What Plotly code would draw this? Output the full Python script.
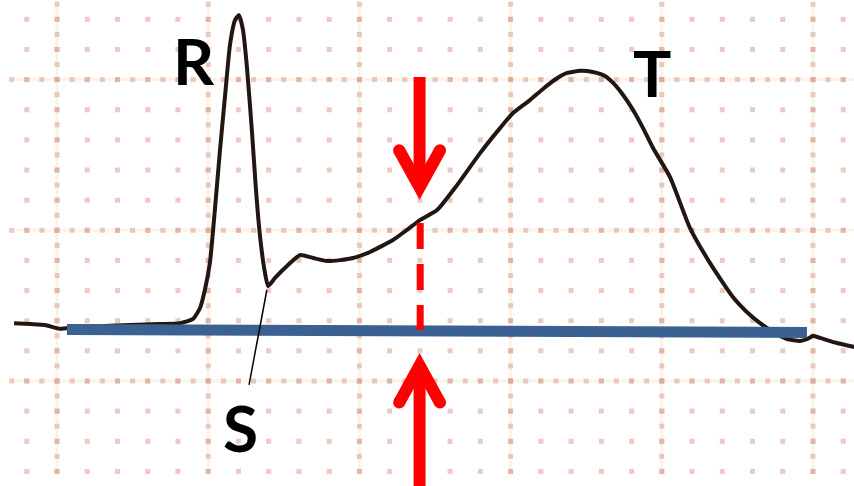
import numpy as np
import plotly.graph_objects as go

# ---- Data (ECG paper millimetres: 1 mm = 0.04 s horizontally, 0.1 mV vertically) ----
ecg_x_mm = [-1.42, -0.89, -0.40, 0.10, 0.60, 1.42, 2.41, 3.41, 4.07, 4.50, 4.73, 4.89,
            5.06, 5.22, 5.39, 5.56, 5.72, 5.89, 6.02, 6.15, 6.28, 6.45, 6.58, 6.71,
            6.85, 6.98, 7.21, 7.64, 8.04, 8.47, 8.93, 9.36, 9.79, 10.35, 11.11, 11.57,
            12.00, 12.57, 13.23, 13.99, 14.65, 15.08, 15.64, 16.07, 16.50, 16.87, 17.30,
            17.72, 18.12, 18.39, 18.72, 19.05, 19.38, 19.71, 20.27, 20.93, 21.59, 22.35,
            22.92, 23.25, 23.74, 24.14, 24.57, 24.80, 25.00, 25.23, 25.79, 26.36]
ecg_y_mm = [1.92, 1.89, 1.86, 1.73, 1.79, 1.82, 1.86, 1.89, 1.92, 2.06, 2.42, 3.02,
            3.95, 5.67, 7.66, 9.49, 11.15, 11.98, 12.14, 11.65, 10.42, 8.23, 6.34, 4.84,
            3.75, 3.15, 3.42, 3.85, 4.18, 4.08, 3.98, 4.01, 4.08, 4.28, 4.68, 5.01,
            5.34, 5.67, 6.50, 7.56, 8.39, 8.89, 9.32, 9.69, 10.02, 10.22, 10.29,
            10.25, 10.12, 9.89, 9.49, 8.99, 8.39, 7.73, 6.77, 5.08, 3.92, 2.79,
            2.19, 1.92, 1.59, 1.39, 1.33, 1.39, 1.49, 1.43, 1.26, 1.13]

baseline_x_mm = [0.33, 24.80]
baseline_y_mm = [1.71, 1.61]

st_x_mm = 11.99
st_point_y_mm = 5.24
iso_point_y_mm = 1.69
top_arrow_tail_mm, top_arrow_tip_mm = 10.09, 6.01
bottom_arrow_tail_mm, bottom_arrow_tip_mm = -3.70, 0.93

wave_labels = ["R", "T", "S"]
label_x_mm = [4.53, 19.68, 6.08]
label_y_mm = [10.65, 10.25, -1.53]
s_pointer_x_mm = [6.35, 6.94]
s_pointer_y_mm = [-0.13, 3.02]

# ---- Paper grid ----
paper_x = (-1.42, 26.5)
paper_y = (-3.05, 12.45)
big_step = 5

fig = go.Figure()

small_x = np.arange(-1, 27)
small_y = np.arange(-3, 13)
gx, gy = np.meshgrid(small_x, small_y)
dots_x = list(gx.ravel())
dots_y = list(gy.ravel())
big_x = [v for v in small_x if v % big_step == 0]
big_y = [v for v in small_y if v % big_step == 0]
half_y = np.arange(-3, 12.51, 0.5)
half_x = np.arange(-1.5, 26.51, 0.5)
for bx in big_x:
    dots_x += [bx] * len(half_y)
    dots_y += list(half_y)
for by in big_y:
    dots_x += list(half_x)
    dots_y += [by] * len(half_x)

for bx in big_x:
    fig.add_shape(type="line", x0=bx, x1=bx, y0=paper_y[0], y1=paper_y[1],
                  line=dict(color="rgba(248,205,170,0.25)", width=3), layer="below")
for by in big_y:
    fig.add_shape(type="line", x0=paper_x[0], x1=paper_x[1], y0=by, y1=by,
                  line=dict(color="rgba(248,205,170,0.25)", width=3), layer="below")

fig.add_trace(go.Scatter(x=dots_x, y=dots_y, mode="markers", hoverinfo="skip",
                         marker=dict(symbol="square", size=5,
                                     color="rgba(222,168,148,0.6)", line=dict(width=0))))

# ECG trace
fig.add_trace(go.Scatter(x=ecg_x_mm, y=ecg_y_mm, mode="lines", hoverinfo="skip",
                         line=dict(color="#221612", width=4, shape="spline", smoothing=0.5)))

# Isoelectric baseline
fig.add_trace(go.Scatter(x=baseline_x_mm, y=baseline_y_mm, mode="lines", hoverinfo="skip",
                         line=dict(color="#3a6191", width=11)))

RED = "#ff0000"


def add_arrow(xc, tail, tip, hw=0.85, hl=1.55, t=0.40):
    s = 1 if tail > tip else -1  # wings lie toward the tail
    alen = float(np.hypot(hw, hl))
    d = t * alen / hw
    Lx, Ly = xc - hw, tip + s * hl
    Rx, Ry = xc + hw, tip + s * hl
    nx, ny = hl / alen * t, hw / alen * t
    L2x, L2y = Lx + nx, Ly + s * ny
    R2x, R2y = Rx - nx, Ry + s * ny
    Ny = tip + s * d
    path = (f"M {xc},{tip} L {Lx},{Ly} L {L2x},{L2y} L {xc},{Ny} "
            f"L {R2x},{R2y} L {Rx},{Ry} Z")
    fig.add_shape(type="line", x0=xc, x1=xc, y0=tail, y1=tip + s * d * 0.6,
                  line=dict(color=RED, width=12))
    fig.add_shape(type="path", path=path, fillcolor=RED, line=dict(width=0))
    r = t / 2
    for cx, cy in [((Lx + L2x) / 2, (Ly + L2y) / 2), ((Rx + R2x) / 2, (Ry + R2y) / 2)]:
        fig.add_shape(type="circle", x0=cx - r, x1=cx + r, y0=cy - r, y1=cy + r,
                      fillcolor=RED, line=dict(width=0))


fig.add_shape(type="line", x0=st_x_mm + 0.02, x1=st_x_mm + 0.02, y0=st_point_y_mm, y1=iso_point_y_mm,
              line=dict(color=RED, width=7, dash="26px,15px"))
add_arrow(st_x_mm, top_arrow_tail_mm, top_arrow_tip_mm)
add_arrow(st_x_mm, bottom_arrow_tail_mm, bottom_arrow_tip_mm)

# S pointer
fig.add_shape(type="line", x0=s_pointer_x_mm[0], x1=s_pointer_x_mm[1],
              y0=s_pointer_y_mm[0], y1=s_pointer_y_mm[1],
              line=dict(color="black", width=1.5))

for txt, lx, ly in zip(wave_labels, label_x_mm, label_y_mm):
    fig.add_annotation(x=lx, y=ly, text=txt, showarrow=False, xanchor="center", yanchor="middle",
                       font=dict(family="Lato", size=64, color="black", weight="bold"))

fig.update_layout(
    width=854, height=486, margin=dict(l=0, r=0, t=0, b=0),
    paper_bgcolor="white", plot_bgcolor="white", showlegend=False,
    xaxis=dict(range=[-1.885, 26.356], visible=False, fixedrange=True),
    yaxis=dict(range=[-3.484, 12.641], visible=False, fixedrange=True),
)

fig.write_html("out.html", config={"displayModeBar": False},
               post_script="document.body.style.margin='0';document.body.style.overflow='hidden';")
